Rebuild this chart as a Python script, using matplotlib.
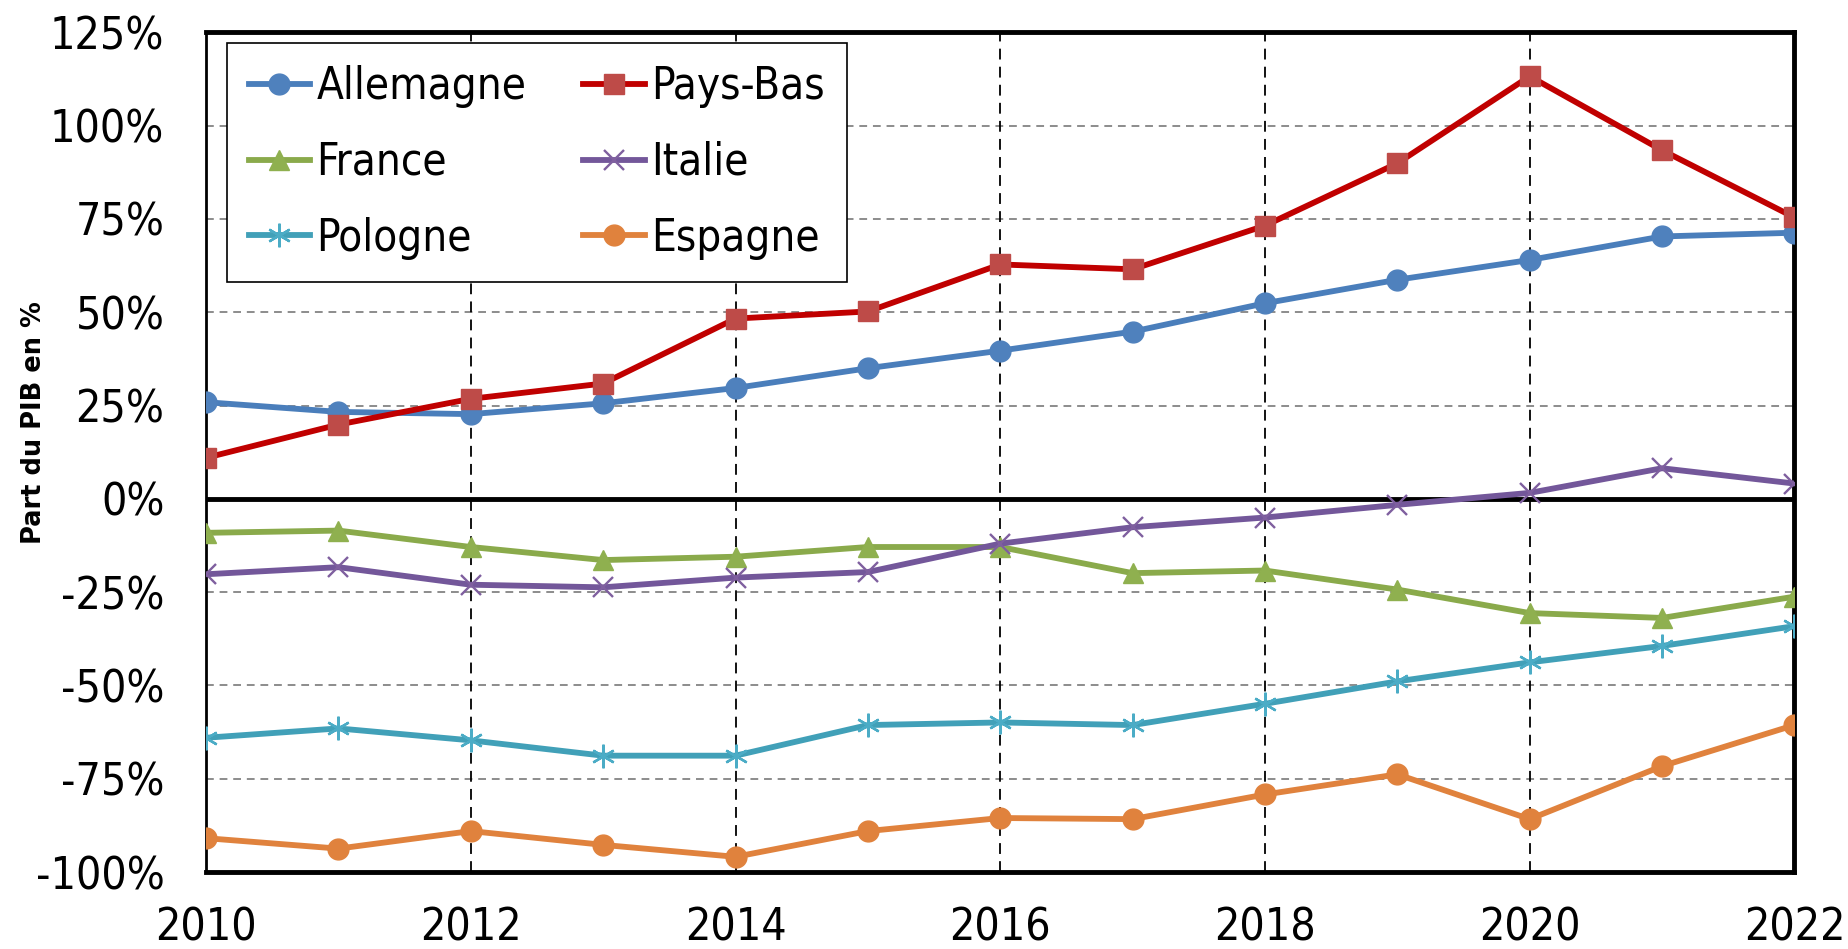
import matplotlib
matplotlib.use("Agg")
import matplotlib.pyplot as plt
from matplotlib.ticker import FuncFormatter, MultipleLocator
from matplotlib.font_manager import FontProperties

years = list(range(2010, 2023))
allemagne = [25.9, 23.3, 22.7, 25.6, 29.7, 35.0, 39.7, 44.8, 52.4, 58.7, 64.0, 70.3, 71.3]
pays_bas = [11.0, 19.9, 26.8, 30.9, 48.3, 50.2, 62.8, 61.5, 73.2, 89.9, 113.2, 93.4, 75.4]
france = [-9.1, -8.5, -12.9, -16.4, -15.5, -12.9, -12.9, -19.9, -19.2, -24.3, -30.6, -31.9, -26.2]
italie = [-20.2, -18.3, -23.0, -23.7, -21.1, -19.6, -12.0, -7.6, -5.0, -1.6, 1.6, 8.2, 4.1]
pologne = [-64.0, -61.5, -64.7, -68.8, -68.8, -60.6, -59.9, -60.6, -54.9, -48.9, -43.8, -39.4, -34.1]
espagne = [-90.9, -93.7, -89.0, -92.7, -95.9, -89.0, -85.5, -85.8, -79.2, -73.8, -85.8, -71.6, -60.6]
x_ticks = [2010, 2012, 2014, 2016, 2018, 2020, 2022]
y_label = "Part du PIB en %"

fp = FontProperties(family="DejaVu Sans", stretch="condensed", size=32)
fp_leg = FontProperties(family="DejaVu Sans", stretch="condensed", size=31.5)

fig = plt.figure(figsize=(18.48, 9.49), dpi=100)
ax = fig.add_axes([0.1115, 0.081, 0.8595, 0.885])

series = [
    ("Allemagne", allemagne, "#4A7EBB", "o", "#4F81BD", 15),
    ("Pays-Bas", pays_bas, "#C00000", "s", "#BE4B48", 14),
    ("France", france, "#8AAA4B", "^", "#8FB04F", 15),
    ("Italie", italie, "#73579A", "x", "#7F5F9F", 15),
    ("Pologne", pologne, "#41A0B8", (6, 2, 0), "#4BACC6", 17),
    ("Espagne", espagne, "#E0823D", "o", "#E0823D", 15),
]
handles = {}
for name, vals, lc, mk, mc, ms in series:
    h, = ax.plot(years, vals, color=lc, lw=4.2, marker=mk, markersize=ms,
                 markerfacecolor=mc, markeredgecolor=mc,
                 markeredgewidth=1.7 if mk in ("x", (6, 2, 0)) else 1,
                 label=name, zorder=3)
    handles[name] = h

ax.set_xlim(2010, 2022)
ax.set_ylim(-100, 125)
ax.yaxis.set_major_locator(MultipleLocator(25))
ax.yaxis.set_major_formatter(FuncFormatter(lambda v, p: f"{int(round(v))}%"))
ax.set_xticks(x_ticks)
ax.set_xticklabels([str(v) for v in x_ticks])

for v in range(-75, 125, 25):
    if v != 0:
        ax.axhline(v, color="#8C8C8C", lw=1.4, ls=(0, (4, 3)), zorder=1)
for v in x_ticks[1:-1]:
    ax.axvline(v, color="black", lw=1.3, ls=(0, (6, 4)), zorder=1)
ax.axhline(0, color="black", lw=3.5, zorder=2)

ax.tick_params(axis="both", length=0)
ax.tick_params(axis="x", pad=25)
ax.tick_params(axis="y", pad=30)
for lab in ax.get_xticklabels() + ax.get_yticklabels():
    lab.set_fontproperties(fp)

ax.spines["left"].set_linewidth(2)
for s in ("top", "right", "bottom"):
    ax.spines[s].set_linewidth(3.5)

ax.set_ylabel(y_label, fontsize=18.5, fontweight="bold", family="DejaVu Sans")
ax.yaxis.set_label_coords(-0.1, 0.535)

order = ["Allemagne", "France", "Pologne", "Pays-Bas", "Italie", "Espagne"]
leg = ax.legend([handles[n] for n in order], order, ncol=2, loc="upper left",
                bbox_to_anchor=(0.013, 0.987), borderaxespad=0, prop=fp_leg,
                frameon=True, fancybox=False, framealpha=1, edgecolor="black",
                handlelength=1.4, handletextpad=0.15, columnspacing=1.3,
                borderpad=0.5, labelspacing=0.75)
leg.get_frame().set_linewidth(1.2)
leg.set_zorder(5)

fig.savefig("out.png", dpi=100)
